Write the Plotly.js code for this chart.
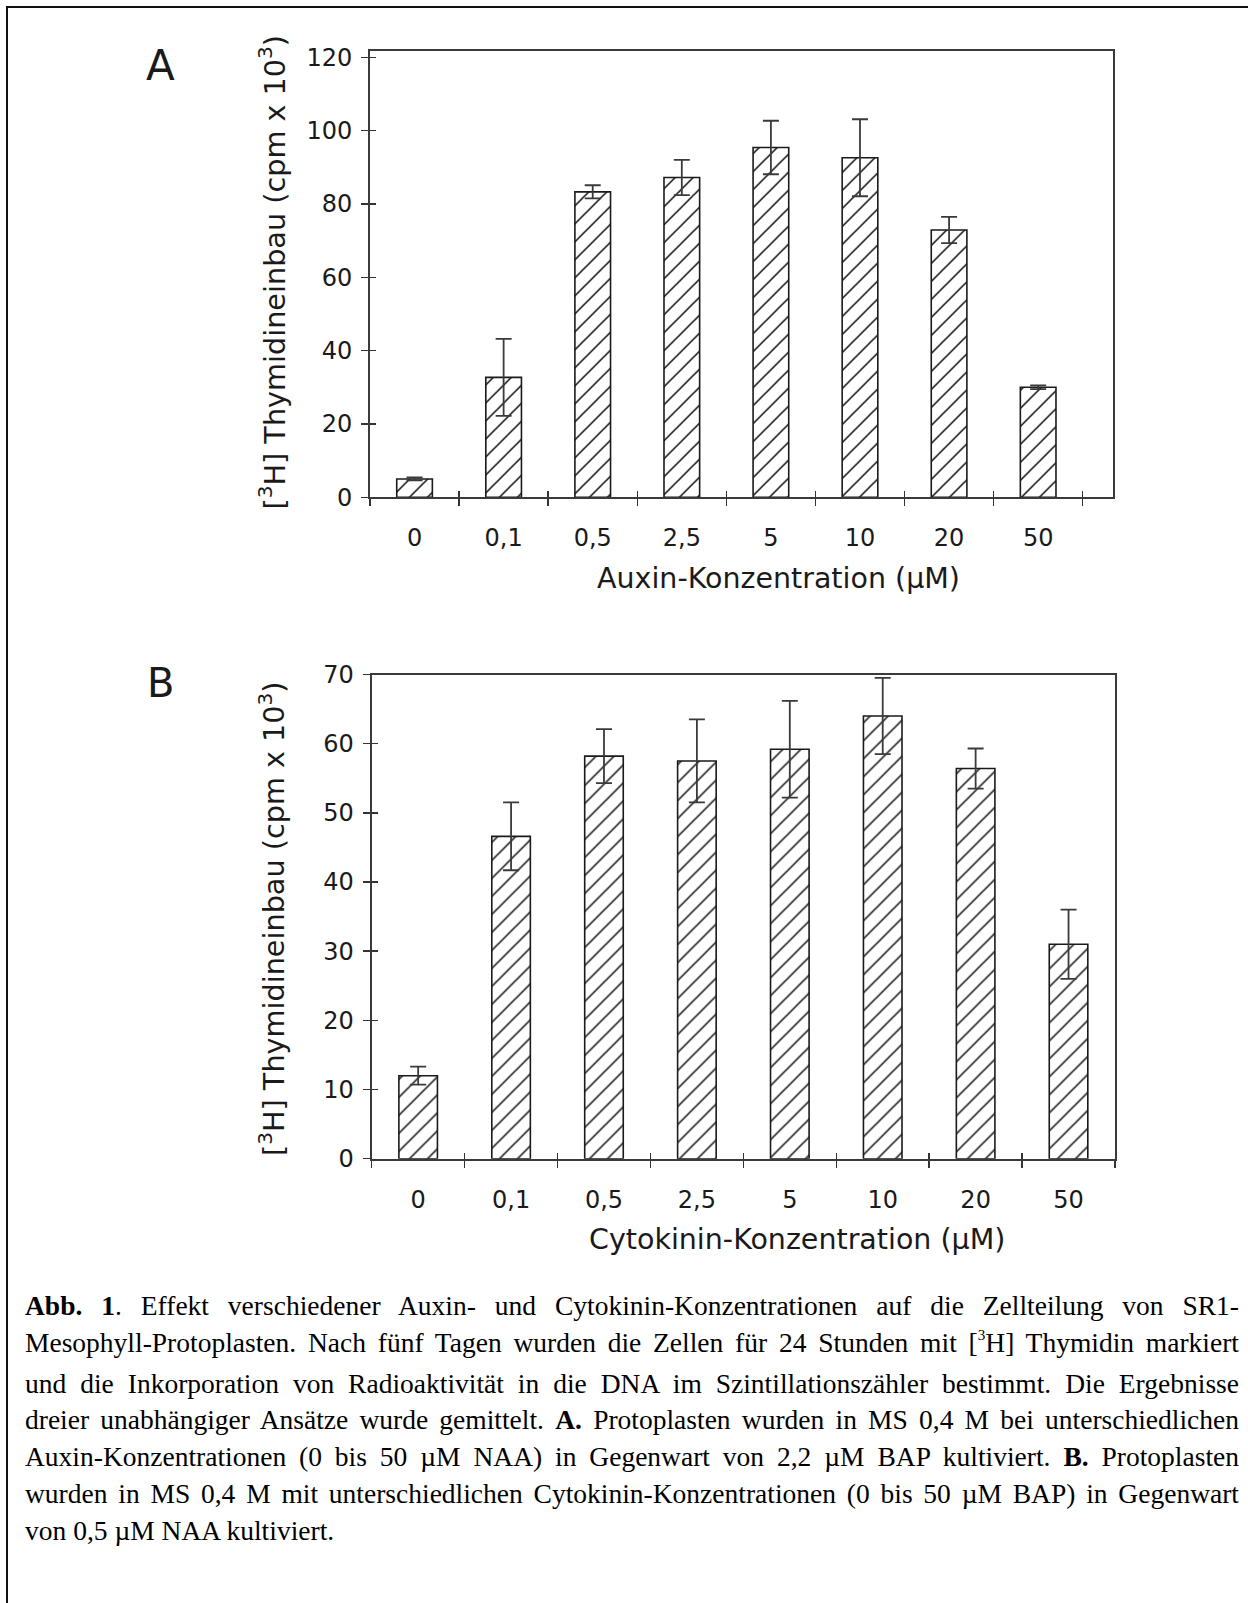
<!DOCTYPE html>
<html>
<head>
<meta charset="utf-8">
<script src="https://cdn.plot.ly/plotly-3.0.1.min.js"></script>
<style>
  html, body { margin:0; padding:0; background:#fff; }
  #page { position:relative; width:1248px; height:1603px; overflow:hidden; background:#fff; }
  #plot { position:absolute; left:0; top:0; width:1248px; height:1280px; }
  #border { position:absolute; left:6px; top:6px; width:1250px; height:1610px;
            border-top:2px solid #111; border-left:2px solid #111; pointer-events:none; z-index:5; }
  #caption { position:absolute; left:25px; top:1288px; width:1214px;
             font-family:"Liberation Serif","Times New Roman",serif; font-size:27.5px; line-height:36.8px; color:#000; }
  #caption div { white-space:nowrap; text-align:justify; text-align-last:justify; }
  #caption div.last { text-align:left; text-align-last:left; }
  #caption sup { font-size:0.55em; vertical-align:baseline; position:relative; top:-0.75em; }
</style>
</head>
<body>
<div id="page">
  <div id="plot"></div>
  <div id="caption">
    <div><b>Abb. 1</b>. Effekt verschiedener Auxin- und Cytokinin-Konzentrationen auf die Zellteilung von SR1-</div>
    <div>Mesophyll-Protoplasten. Nach fünf Tagen wurden die Zellen für 24 Stunden mit [<sup>3</sup>H] Thymidin markiert</div>
    <div>und die Inkorporation von Radioaktivität in die DNA im Szintillationszähler bestimmt. Die Ergebnisse</div>
    <div>dreier unabhängiger Ansätze wurde gemittelt. <b>A.</b> Protoplasten wurden in MS 0,4 M bei unterschiedlichen</div>
    <div>Auxin-Konzentrationen (0 bis 50 µM NAA) in Gegenwart von 2,2 µM BAP kultiviert. <b>B.</b> Protoplasten</div>
    <div>wurden in MS 0,4 M mit unterschiedlichen Cytokinin-Konzentrationen (0 bis 50 µM BAP) in Gegenwart</div>
    <div class="last">von 0,5 µM NAA kultiviert.</div>
  </div>
  <div id="border"></div>
</div>
<script>
// ---- data ----
const categories = ['0', '0,1', '0,5', '2,5', '5', '10', '20', '50'];
const auxinMean  = [5.0, 32.7, 83.3, 87.2, 95.4, 92.6, 72.9, 30.0];
const auxinErr   = [0.4, 10.5, 1.8, 4.8, 7.3, 10.5, 3.6, 0.5];
const cytoMean   = [12.0, 46.6, 58.2, 57.5, 59.2, 64.0, 56.4, 31.0];
const cytoErr    = [1.3, 4.9, 3.9, 6.0, 7.0, 5.5, 2.9, 5.0];
const panelLabels = ['A', 'B'];
const xTitles = ['Auxin-Konzentration (µM)', 'Cytokinin-Konzentration (µM)'];
const yTitle = '[<sup>3</sup>H] Thymidineinbau (cpm x 10<sup>3</sup>)';

// ---- geometry helpers ----
const W = 1248, H = 1280;
const px = x => x / W;
const py = y => 1 - y / H;

const FONT = 'DejaVu Sans, Verdana, sans-serif';
const TXT = '#1a1a1a';

function barTrace(vals, errs, xa, ya, width) {
  return {
    type: 'bar', x: categories, y: vals, xaxis: xa, yaxis: ya, width: width,
    marker: {
      color: '#ffffff',
      line: { color: '#1a1a1a', width: 1.6 },
      pattern: { shape: '/', size: 12.7279, solidity: 0.12, fgcolor: '#111111', bgcolor: '#ffffff' }
    },
    error_y: { type: 'data', array: errs, visible: true, color: '#3a3a3a', thickness: 1.8, width: 8 },
    hoverinfo: 'skip', showlegend: false
  };
}
function ghost(vals, xa, ya) {
  return { type: 'scatter', mode: 'none', x: categories, y: vals, xaxis: xa, yaxis: ya,
           hoverinfo: 'skip', showlegend: false };
}

const traces = [
  barTrace(auxinMean, auxinErr, 'x', 'y', 0.4),
  barTrace(cytoMean, cytoErr, 'x2', 'y2', 0.415),
  ghost(auxinMean, 'x3', 'y3'),
  ghost(cytoMean, 'x4', 'y4')
];

function xAxis(domain, range, anchor, extra) {
  return Object.assign({
    domain: domain, range: range, anchor: anchor,
    type: 'category', categoryarray: categories, categoryorder: 'array',
    tickson: 'boundaries', ticks: 'outside', ticklen: 7, tickwidth: 1.5, tickcolor: '#333',
    showline: true, linecolor: '#3a3a3a', linewidth: 2, mirror: true,
    showgrid: false, zeroline: false, fixedrange: true,
    tickfont: { family: FONT, size: 24, color: TXT }, ticklabelstandoff: 18
  }, extra || {});
}
function yAxis(domain, range, dtick, anchor, extra) {
  return Object.assign({
    domain: domain, range: range, anchor: anchor,
    tickmode: 'linear', tick0: 0, dtick: dtick,
    ticks: 'outside', ticklen: 7, tickwidth: 1.5, tickcolor: '#333',
    showline: true, linecolor: '#3a3a3a', linewidth: 2, mirror: true,
    showgrid: false, zeroline: false, fixedrange: true,
    tickfont: { family: FONT, size: 24, color: TXT }, ticklabelstandoff: 4
  }, extra || {});
}

const xdomA = [px(370), px(1113)], ydomA = [py(497.3), py(50.7)];
const xdomB = [px(371.7), px(1115)], ydomB = [py(1158.7), py(674.5)];
const xrA = [-0.5, 7.84], yrA = [0, 121.8];
const xrB = [-0.5, 7.5], yrB = [0, 70];

const inner = { ticks: 'inside', ticklen: 6, showticklabels: false, showline: false, mirror: false };

const layout = {
  width: W, height: H,
  margin: { l: 0, r: 0, t: 0, b: 0, pad: 0 },
  paper_bgcolor: 'rgba(0,0,0,0)', plot_bgcolor: 'rgba(0,0,0,0)',
  font: { family: FONT, color: TXT },
  showlegend: false,
  xaxis:  xAxis(xdomA, xrA, 'y'),
  yaxis:  yAxis(ydomA, yrA, 20, 'x'),
  xaxis2: xAxis(xdomB, xrB, 'y2'),
  yaxis2: yAxis(ydomB, yrB, 10, 'x2'),
  xaxis3: xAxis(xdomA, xrA, 'y3', Object.assign({ overlaying: 'x' }, inner)),
  yaxis3: yAxis(ydomA, yrA, 20, 'x3', Object.assign({ overlaying: 'y' }, inner)),
  xaxis4: xAxis(xdomB, xrB, 'y4', Object.assign({ overlaying: 'x2' }, inner)),
  yaxis4: yAxis(ydomB, yrB, 10, 'x4', Object.assign({ overlaying: 'y2' }, inner)),
  annotations: [
    { text: panelLabels[0], x: px(160), y: py(66), xref: 'paper', yref: 'paper',
      xanchor: 'center', yanchor: 'middle', showarrow: false, font: { family: FONT, size: 42, color: TXT } },
    { text: panelLabels[1], x: px(160), y: py(682.5), xref: 'paper', yref: 'paper',
      xanchor: 'center', yanchor: 'middle', showarrow: false, font: { family: FONT, size: 40, color: TXT } },
    { text: xTitles[0], x: px(778), y: py(578), xref: 'paper', yref: 'paper',
      xanchor: 'center', yanchor: 'middle', showarrow: false, font: { family: FONT, size: 28.5, color: TXT } },
    { text: xTitles[1], x: px(797), y: py(1239), xref: 'paper', yref: 'paper',
      xanchor: 'center', yanchor: 'middle', showarrow: false, font: { family: FONT, size: 28.5, color: TXT } },
    { text: yTitle, x: px(272), y: py(272.5), xref: 'paper', yref: 'paper', textangle: -90,
      xanchor: 'center', yanchor: 'middle', showarrow: false, font: { family: FONT, size: 28.7, color: TXT } },
    { text: yTitle, x: px(272), y: py(919), xref: 'paper', yref: 'paper', textangle: -90,
      xanchor: 'center', yanchor: 'middle', showarrow: false, font: { family: FONT, size: 28.7, color: TXT } }
  ]
};

Plotly.newPlot('plot', traces, layout, { staticPlot: true, displayModeBar: false });
</script>
</body>
</html>
